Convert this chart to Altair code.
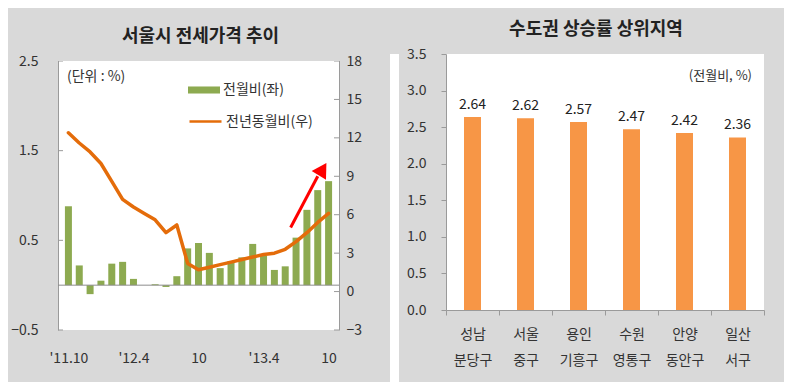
import json
import altair as alt
import pandas as pd

# ---------------- left panel data ----------------
months = ["'11.10", "'11.11", "'11.12", "'12.1", "'12.2", "'12.3", "'12.4", "'12.5",
          "'12.6", "'12.7", "'12.8", "'12.9", "'12.10", "'12.11", "'12.12", "'13.1",
          "'13.2", "'13.3", "'13.4", "'13.5", "'13.6", "'13.7", "'13.8", "'13.9", "'13.10"]
mom_change = [0.88, 0.22, -0.10, 0.05, 0.24, 0.26, 0.07, 0.00, 0.01, -0.02, 0.10, 0.41,
              0.47, 0.36, 0.19, 0.27, 0.31, 0.46, 0.33, 0.17, 0.21, 0.53, 0.84, 1.06, 1.16]
yoy_change = [12.4, 11.6, 10.9, 10.0, 8.6, 7.2, 6.6, 6.1, 5.6, 4.6, 5.2, 2.2, 1.7,
              1.9, 2.1, 2.3, 2.5, 2.7, 2.9, 3.0, 3.3, 3.9, 4.6, 5.4, 6.1]
tick_pos = [0, 6, 12, 18, 24]
tick_text = ["'11.10", "'12.4", "10", "'13.4", "10"]
left_ticks = [-0.5, 0.5, 1.5, 2.5]
right_ticks = [-3, 0, 3, 6, 9, 12, 15, 18]
series_names = ["전월비(좌)", "전년동월비(우)"]
arrow_x = [20.5, 23.0]
arrow_y = [5.0, 9.0]
head_x = [23.45]
head_y = [9.55]

# ---------------- right panel data ----------------
regions = ["성남 분당구", "서울 중구", "용인 기흥구", "수원 영통구", "안양 동안구", "일산 서구"]
rates = [2.64, 2.62, 2.57, 2.47, 2.42, 2.36]
rate_ticks = [0, 0.5, 1.0, 1.5, 2.0, 2.5, 3.0, 3.5]

FONT = "Noto Sans CJK KR"
GRAY_BG = "#D9D9D9"
GREEN = "#8DAA50"
ORANGE_LINE = "#E46C0A"
ORANGE_BAR = "#F79646"
AXIS_GRAY = "#9A9A9A"
TXT = "#333333"

# layout: left plot is 269px tall for its axes, but its view is extended upward by
# EXTRA px (covered in gray) so that both panels' views share the same top.
PLOT_W_LEFT = 281
PLOT_H_LEFT = 269
EXTRA = 7
VIEW_H_LEFT = PLOT_H_LEFT + EXTRA
left_dom = [-0.5, 2.5 + EXTRA * 3.0 / PLOT_H_LEFT]
right_dom = [-3, 18 + EXTRA * 21.0 / PLOT_H_LEFT]

# ================= left chart =================
left_df = pd.DataFrame({
    "idx": list(range(len(months))),
    "month": months,
    "mom": mom_change,
    "yoy": yoy_change,
    "s1": series_names[0],
    "s2": series_names[1],
})
label_expr = f"{json.dumps(tick_text)}[indexof({json.dumps(tick_pos)}, datum.value)]"

x_left = alt.X(
    "idx:Q",
    scale=alt.Scale(domain=[-0.5, 24.5], nice=False, zero=False),
    axis=alt.Axis(values=tick_pos, labelExpr=label_expr, domain=False, ticks=False,
                  grid=False, labelPadding=21, title=None),
)


def y_left(field):
    return alt.Y(
        field,
        scale=alt.Scale(domain=left_dom, nice=False, zero=False),
        axis=alt.Axis(values=left_ticks, format=".1f", title=None, grid=False, ticks=False,
                      domainColor=AXIS_GRAY, labelPadding=20),
    )


def y_right(field):
    return alt.Y(
        field,
        scale=alt.Scale(domain=right_dom, nice=False, zero=False),
        axis=alt.Axis(orient="right", values=right_ticks, format="d", title=None, grid=False,
                      ticks=False, domainColor=AXIS_GRAY, labelPadding=7),
    )


bars = alt.Chart(left_df).mark_bar(size=7).encode(
    x=x_left,
    y=y_left("mom:Q"),
    color=alt.Color(
        "s1:N",
        scale=alt.Scale(domain=[series_names[0]], range=[GREEN]),
        legend=alt.Legend(title=None, orient="none", legendX=130, legendY=20, padding=0,
                          symbolType="M-1,-0.22L1,-0.22L1,0.22L-1,0.22Z",
                          symbolSize=1024, symbolStrokeWidth=0, labelOffset=3),
    ),
)
zero_rule = alt.Chart(pd.DataFrame({"z": [0]})).mark_rule(color="#8C8C8C", strokeWidth=1).encode(
    y=alt.datum(0)
)
# inward tick marks on the left axis
lticks = alt.Chart(pd.DataFrame({"v": left_ticks})).mark_rule(color=AXIS_GRAY).encode(
    y=y_left("v:Q"), x=alt.value(0), x2=alt.value(5)
)

line = alt.Chart(left_df).mark_line(strokeWidth=3.5, strokeJoin="round", strokeCap="round").encode(
    x=x_left,
    y=y_right("yoy:Q"),
    stroke=alt.Stroke(
        "s2:N",
        scale=alt.Scale(domain=[series_names[1]], range=[ORANGE_LINE]),
        legend=alt.Legend(title=None, orient="none", legendX=130, legendY=50, padding=0,
                          symbolType="stroke", symbolSize=1024, symbolStrokeWidth=2.5,
                          labelOffset=3),
    ),
)
# inward tick marks on the right axis
rticks = alt.Chart(pd.DataFrame({"v": right_ticks})).mark_rule(color=AXIS_GRAY).encode(
    y=y_right("v:Q"), x=alt.value(PLOT_W_LEFT - 5), x2=alt.value(PLOT_W_LEFT)
)
arrow_df = pd.DataFrame({"idx": arrow_x, "yoy": arrow_y})
head_df = pd.DataFrame({"idx": head_x, "yoy": head_y})
arrow_line = alt.Chart(arrow_df).mark_line(color="#FF0000", strokeWidth=3).encode(
    x=x_left, y=y_right("yoy:Q"))
arrow_head = alt.Chart(head_df).mark_point(
    shape="triangle-up", filled=True, color="#FF0000", size=280, angle=31.5, opacity=1
).encode(x=x_left, y=y_right("yoy:Q"))

unit_note = alt.Chart(pd.DataFrame({"t": ["(단위 : %)"]})).mark_text(
    align="left", baseline="middle", fontSize=14, color=TXT
).encode(text="t:N", x=alt.value(9), y=alt.value(23))

# gray strip hiding the top EXTRA px of the left view
top_cover = alt.Chart(pd.DataFrame({"c": [0]})).mark_rect(color=GRAY_BG).encode(
    x=alt.value(-2), x2=alt.value(PLOT_W_LEFT + 2), y=alt.value(0), y2=alt.value(EXTRA)
)

TITLE_KW = dict(fontSize=18, fontWeight="bold", font=FONT, color="#222222",
                anchor="middle", frame="group", offset=8, lineHeight=13)

left = alt.layer(
    alt.layer(bars, zero_rule, lticks),
    alt.layer(line, rticks, arrow_line, arrow_head),
    unit_note,
    top_cover,
).resolve_scale(y="independent").properties(
    width=PLOT_W_LEFT, height=VIEW_H_LEFT,
    view=alt.ViewBackground(fill="white"),
    title=alt.TitleParams(text=["", "서울시 전세가격 추이"], dx=2, **TITLE_KW),
)

# ================= spacer (white gap between panels) =================
spacer = alt.Chart(pd.DataFrame({"k": [0]})).mark_rect(color="white").encode(
    x=alt.value(28), x2=alt.value(37), y=alt.value(0), y2=alt.value(366)
).properties(width=44, height=366)

# ================= right chart =================
right_df = pd.DataFrame({"region": regions, "rate": rates})
x_reg = alt.X(
    "region:N", sort=None,
    scale=alt.Scale(paddingInner=0, paddingOuter=0),
    axis=alt.Axis(labelExpr="split(datum.label, ' ')", labelAngle=0, tickBand="extent",
                  tickSize=5, tickColor=AXIS_GRAY, domainColor=AXIS_GRAY, labelPadding=12,
                  labelLineHeight=26, labelBaseline="top", title=None),
)
y_rate = alt.Y(
    "rate:Q",
    scale=alt.Scale(domain=[0, 3.5], nice=False),
    axis=alt.Axis(values=rate_ticks, format=".1f", title=None, grid=False, tickSize=5,
                  tickColor=AXIS_GRAY, domainColor=AXIS_GRAY, labelPadding=15),
)
rbars = alt.Chart(right_df).mark_bar(size=17, color=ORANGE_BAR).encode(x=x_reg, y=y_rate)
rtext = alt.Chart(right_df).mark_text(dy=-12, fontSize=14, color="#222222").encode(
    x=x_reg, y=y_rate, text=alt.Text("rate:Q", format=".2f")
)
rnote = alt.Chart(pd.DataFrame({"t": ["(전월비, %)"]})).mark_text(
    align="right", baseline="middle", fontSize=13, color=TXT
).encode(text="t:N", x=alt.value(306), y=alt.value(22))

right = alt.layer(rbars, rtext, rnote).properties(
    width=318, height=256,
    view=alt.ViewBackground(fill="white"),
    title=alt.TitleParams(text=["", "수도권 상승률 상위지역"], dx=-9, **TITLE_KW),
)

chart = alt.hconcat(left, spacer, right, spacing=0).properties(
    padding={"left": 2, "top": 0, "right": 19, "bottom": 0},
    background=GRAY_BG,
).configure(font=FONT).configure_view(strokeWidth=0).configure_axis(
    labelFont=FONT, labelFontSize=14, labelColor=TXT
).configure_legend(labelFont=FONT, labelFontSize=14, labelColor=TXT)

chart.save("out.html", embed_options={"renderer": "svg", "actions": False})
